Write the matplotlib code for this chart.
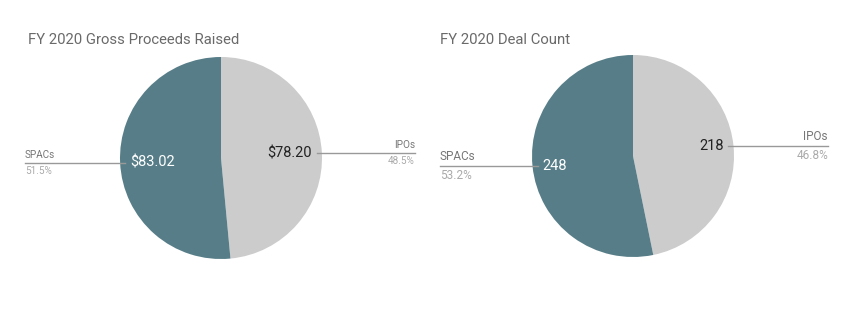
import numpy as np
import matplotlib.pyplot as plt

plt.rcParams['font.family'] = ['Roboto', 'DejaVu Sans']

# data
categories = ['IPOs', 'SPACs']
proceeds = [78.20, 83.02]
deals = [218, 248]
titles = ['FY 2020 Gross Proceeds Raised', 'FY 2020 Deal Count']
colors = ['#cccccc', '#577e88']
value_colors = ['#222222', '#ffffff']

W, H = 858, 324
fig = plt.figure(figsize=(W / 100, H / 100), dpi=100)
ax = fig.add_axes([0, 0, 1, 1])


def draw_pie(values, center, radius, fmt, title, title_x, label_x,
             value_size, label_size):
    cx, cy = center
    wedges, _ = ax.pie(values, colors=colors, startangle=90, counterclock=False,
                       center=(cx, cy), radius=radius, frame=True)
    ax.text(title_x, H - 40, title, fontsize=10.7, color='#6a6a6a',
            ha='left', va='center')
    total = sum(values)
    for i, w in enumerate(wedges):
        mid = np.deg2rad((w.theta1 + w.theta2) / 2)
        dx, dy = np.cos(mid), np.sin(mid)
        y = cy + radius * dy
        right = dx > 0
        # value inside the slice, near the rim
        vx = cx + radius * 0.90 * dx
        ax.text(vx, y, fmt(values[i]), fontsize=value_size,
                color=value_colors[i], ha='right' if right else 'left',
                va='center')
        # leader line out to the category label
        lx0 = cx + radius * 0.95 * dx
        lx1 = label_x[i]
        ax.plot([lx0, lx1], [y, y], color='#999999', lw=1)
        ha = 'right' if right else 'left'
        ax.text(lx1, y + 3, categories[i], fontsize=label_size,
                color='#777777', ha=ha, va='bottom')
        ax.text(lx1, y - 3, '{:.1f}%'.format(values[i] / total * 100),
                fontsize=label_size, color='#aaaaaa', ha=ha, va='top')


draw_pie(proceeds, (221, H - 158), 101, lambda v: '${:.2f}'.format(v),
         titles[0], 28, [415, 25], 10.5, 7.2)
draw_pie(deals, (633, H - 156), 101, lambda v: '{:d}'.format(v),
         titles[1], 440, [828, 440], 10.5, 8.5)

ax.set_xlim(0, W)
ax.set_ylim(0, H)
ax.set_aspect('equal')
ax.axis('off')

fig.savefig('out.png', dpi=100, facecolor='white')
